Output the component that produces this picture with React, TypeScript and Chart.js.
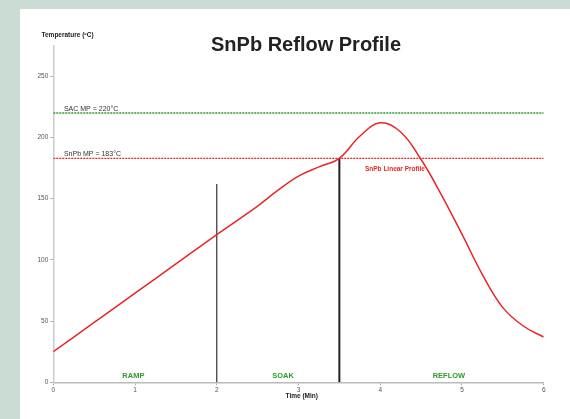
import React, { useEffect, useRef } from "react";
import { Chart, registerables } from "chart.js";

Chart.register(...registerables);

// Profile data (time in minutes, temperature in °C)
const profileTime = [0, 0.5, 1, 1.5, 2, 2.5, 2.75, 3.0, 3.25, 3.5, 3.75, 4.0, 4.25, 4.5, 4.75, 5.0, 5.25, 5.5, 5.75, 6.0];
const profileTemp = [25, 48.9, 72.8, 96.7, 120.7, 144, 157, 168.5, 176, 183, 201, 212, 204.5, 182, 153, 121, 88, 61, 46, 37];

const sacMP = 220;
const snpbMP = 183;
const timeRange = [0, 6];
const phaseBounds = [2, 3.5];
const phaseBoundTops = [162, 183];
const phaseLabels = ["RAMP", "SOAK", "REFLOW"];
const phaseLabelX = [0.98, 2.81, 4.84];
const yTicks = [0, 50, 100, 150, 200, 250];

const GREEN = "#2f9a2f";
const RED = "#e8262a";

export default function App() {
  const ref = useRef<HTMLCanvasElement>(null);
  useEffect(() => {
    const canvas = ref.current!;
    const textPlugin = {
      id: "texts",
      afterDraw(chart: any) {
        const { ctx, scales } = chart;
        const xs = scales.x;
        const ys = scales.y;
        ctx.save();
        // Title
        ctx.fillStyle = "#222";
        ctx.font = "bold 20px 'Liberation Sans', Arial, sans-serif";
        ctx.textAlign = "center";
        ctx.textBaseline = "alphabetic";
        ctx.fillText("SnPb Reflow Profile", 286, 42);
        // Y axis title
        ctx.font = "bold 6.5px 'Liberation Sans', Arial, sans-serif";
        ctx.textAlign = "left";
        ctx.textBaseline = "middle";
        ctx.fillStyle = "#222";
        ctx.fillText("Temperature (ºC)", 21.5, 26.5);
        // X axis title
        ctx.textAlign = "center";
        ctx.fillText("Time (Min)", xs.getPixelForValue(3.04), 387);
        // MP labels
        ctx.font = "7px 'Liberation Sans', Arial, sans-serif";
        ctx.textAlign = "left";
        ctx.textBaseline = "alphabetic";
        ctx.fillStyle = "#333";
        ctx.fillText("SAC MP = 220°C", xs.getPixelForValue(0.13), ys.getPixelForValue(sacMP) - 2);
        ctx.fillText("SnPb MP = 183°C", xs.getPixelForValue(0.13), ys.getPixelForValue(snpbMP) - 2);
        // Linear profile label
        ctx.font = "bold 6.5px 'Liberation Sans', Arial, sans-serif";
        ctx.fillStyle = RED;
        ctx.textAlign = "center";
        ctx.textBaseline = "middle";
        ctx.fillText("SnPb Linear Profile", xs.getPixelForValue(4.18), ys.getPixelForValue(174.5));
        // Phase labels
        ctx.font = "bold 7.5px 'Liberation Sans', Arial, sans-serif";
        ctx.fillStyle = GREEN;
        phaseLabels.forEach((l, i) => {
          ctx.fillText(l, xs.getPixelForValue(phaseLabelX[i]), ys.getPixelForValue(5.4));
        });
        ctx.restore();
      },
    };

    const chart = new Chart(canvas, {
      type: "line",
      data: {
        datasets: [
          {
            data: profileTime.map((t, i) => ({ x: t, y: profileTemp[i] })),
            borderColor: RED,
            borderWidth: 1.5,
            pointRadius: 0,
            tension: 0.4,
          },
          {
            data: timeRange.map((t) => ({ x: t, y: sacMP })),
            borderColor: GREEN,
            borderWidth: 1.5,
            borderDash: [2, 1],
            pointRadius: 0,
          },
          {
            data: timeRange.map((t) => ({ x: t, y: snpbMP })),
            borderColor: RED,
            borderWidth: 1.2,
            borderDash: [2, 1],
            pointRadius: 0,
          },
          {
            data: [
              { x: phaseBounds[0], y: 0 },
              { x: phaseBounds[0], y: phaseBoundTops[0] },
            ],
            borderColor: "#333",
            borderWidth: 1.2,
            pointRadius: 0,
          },
          {
            data: [
              { x: phaseBounds[1], y: 0 },
              { x: phaseBounds[1], y: phaseBoundTops[1] },
            ],
            borderColor: "#222",
            borderWidth: 2,
            pointRadius: 0,
          },
        ],
      },
      options: {
        animation: false,
        responsive: false,
        layout: { padding: { left: 0, top: 36.7, right: 26.3, bottom: 0 } },
        plugins: { legend: { display: false }, tooltip: { enabled: false } },
        scales: {
          x: {
            type: "linear",
            min: 0,
            max: 6,
            ticks: {
              stepSize: 1,
              font: { size: 6.5, family: "'Liberation Sans', Arial, sans-serif" },
              color: "#555",
              padding: 1,
              maxRotation: 0,
            },
            grid: { drawOnChartArea: false, drawTicks: true, tickLength: 3, color: "#aaa" },
            border: { color: "#bbb", width: 1.5 },
            afterFit: (s: any) => {
              s.height = 36.7;
            },
          },
          y: {
            type: "linear",
            min: 0,
            max: 275,
            afterBuildTicks: (s: any) => {
              s.ticks = yTicks.map((v) => ({ value: v }));
            },
            ticks: {
              font: { size: 6.5, family: "'Liberation Sans', Arial, sans-serif" },
              color: "#555",
              padding: 2,
            },
            grid: { drawOnChartArea: false, drawTicks: true, tickLength: 3, color: "#aaa" },
            border: { color: "#ccc", width: 1.5 },
            afterFit: (s: any) => {
              s.width = 33.3;
            },
          },
        },
      },
      plugins: [textPlugin],
    } as any);
    return () => chart.destroy();
  }, []);

  return (
    <div style={{ position: "absolute", left: 0, top: 0, width: 570, height: 419, background: "#cbdcd5", overflow: "hidden" }}>
      <div style={{ position: "absolute", left: 20, top: 9, width: 550, height: 410, background: "#fff" }}>
        <canvas ref={ref} width={550} height={410} style={{ width: 550, height: 410, display: "block" }} />
      </div>
    </div>
  );
}
